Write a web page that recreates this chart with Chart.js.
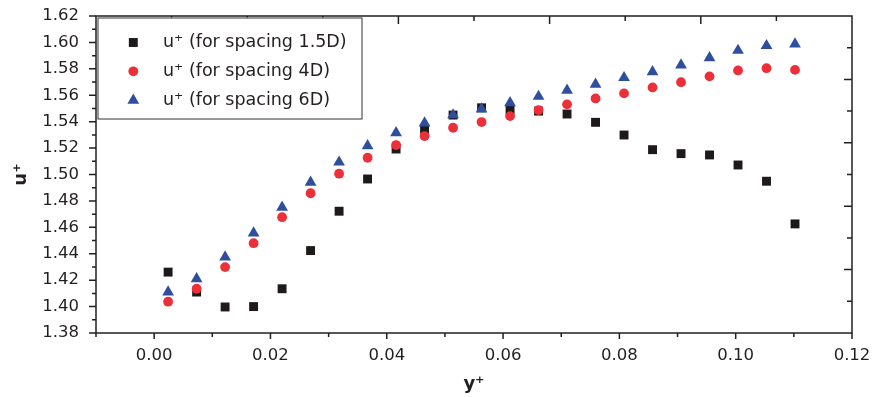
<!DOCTYPE html>
<html>
<head>
<meta charset="utf-8">
<script src="https://cdn.jsdelivr.net/npm/chart.js@4"></script>
<style>
  html, body { margin: 0; padding: 0; background: #fff; }
  #wrap { width: 872px; height: 397px; }
</style>
</head>
<body>
<div id="wrap"><canvas id="chart" width="872" height="397"></canvas></div>
<script>
// y+ positions (same for all three series)
var yPlus = [0.0024, 0.0073, 0.0122, 0.0171, 0.0220, 0.0269, 0.0318, 0.0367, 0.0416, 0.0465, 0.0514, 0.0563,
             0.0612, 0.0661, 0.0710, 0.0759, 0.0808, 0.0857, 0.0906, 0.0955, 0.1004, 0.1053, 0.1102];

// u+ values
var uSpacing15 = [1.4261, 1.4110, 1.3997, 1.4000, 1.4135, 1.4424, 1.4722, 1.4966, 1.5193, 1.5342, 1.5450, 1.5505,
                  1.5488, 1.5480, 1.5458, 1.5395, 1.5299, 1.5188, 1.5158, 1.5148, 1.5072, 1.4949, 1.4626];
var uSpacing4 = [1.4037, 1.4135, 1.4299, 1.4480, 1.4677, 1.4858, 1.5006, 1.5127, 1.5223, 1.5291, 1.5354, 1.5397,
                 1.5442, 1.5488, 1.5531, 1.5576, 1.5614, 1.5659, 1.5699, 1.5743, 1.5788, 1.5805, 1.5792];
var uSpacing6 = [1.4110, 1.4210, 1.4375, 1.4556, 1.4752, 1.4941, 1.5093, 1.5217, 1.5315, 1.5390, 1.5451, 1.5496,
                 1.5542, 1.5591, 1.5637, 1.5682, 1.5733, 1.5778, 1.5829, 1.5884, 1.5939, 1.5975, 1.5988];

var seriesLabels = ['u\u207A (for spacing 1.5D)', 'u\u207A (for spacing 4D)', 'u\u207A (for spacing 6D)'];

// unlabeled inward ticks on the top and right frame
var topTicks = [0.003, 0.016, 0.029, 0.042, 0.055, 0.068, 0.081, 0.094, 0.107];
var rightTicks = [1.404, 1.428, 1.452, 1.476, 1.500, 1.524, 1.548, 1.572, 1.596];

var ink = '#231f20';
var fontFam = '"DejaVu Sans", sans-serif';

function pts(xs, ys) {
  var out = [];
  for (var i = 0; i < xs.length; i++) out.push({x: xs[i], y: ys[i]});
  return out;
}

var datasets = [
  {label: seriesLabels[0], data: pts(yPlus, uSpacing15), pointStyle: 'rect', pointRadius: 6.3,
   backgroundColor: '#1e1a1a', borderColor: '#1e1a1a', borderWidth: 0, order: 3},
  {label: seriesLabels[1], data: pts(yPlus, uSpacing4), pointStyle: 'circle', pointRadius: 4.9,
   backgroundColor: '#ec2f38', borderColor: '#ec2f38', borderWidth: 0, order: 2},
  {label: seriesLabels[2], data: pts(yPlus, uSpacing6), pointStyle: 'triangle', pointRadius: 6.8,
   backgroundColor: '#2f4f9e', borderColor: '#2f4f9e', borderWidth: 0, order: 1}
];

// frame, tick marks and boxed legend
var framePlugin = {
  id: 'frame',
  afterDraw: function(chart) {
    var ctx = chart.ctx, a = chart.chartArea;
    var xs = chart.scales.x, ys = chart.scales.y;
    ctx.save();
    ctx.strokeStyle = ink;
    ctx.lineWidth = 1.5;
    ctx.strokeRect(a.left, a.top, a.right - a.left, a.bottom - a.top);

    ctx.beginPath();
    xs.ticks.forEach(function(t) {
      var px = xs.getPixelForValue(t.value);
      var len = Math.round(t.value * 100) % 2 === 0 ? 6 : 4;
      ctx.moveTo(px, a.bottom); ctx.lineTo(px, a.bottom + len);
    });
    ys.ticks.forEach(function(t) {
      var py = ys.getPixelForValue(t.value);
      var len = Math.round(t.value * 100) % 2 === 0 ? 7 : 4;
      ctx.moveTo(a.left, py); ctx.lineTo(a.left - len, py);
    });
    topTicks.forEach(function(v, i) {
      var px = xs.getPixelForValue(v);
      var len = i % 2 === 1 ? 8 : 5;
      ctx.moveTo(px, a.top); ctx.lineTo(px, a.top + len);
    });
    rightTicks.forEach(function(v, i) {
      var py = ys.getPixelForValue(v);
      var len = i % 2 === 1 ? 8 : 5;
      ctx.moveTo(a.right, py); ctx.lineTo(a.right - len, py);
    });
    ctx.stroke();

    // legend box
    var bx = a.left + 1.5, by = a.top + 1.5, bw = 264, bh = 101;
    ctx.fillStyle = '#fff';
    ctx.fillRect(bx, by, bw, bh);
    ctx.lineWidth = 1;
    ctx.strokeStyle = '#333';
    ctx.strokeRect(bx + 0.5, by + 0.5, bw, bh);

    var rows = [26.5, 55.3, 84.3];
    chart.data.datasets.forEach(function(ds, i) {
      var cy = a.top + rows[i], cx = 133.3;
      ctx.fillStyle = ds.backgroundColor;
      ctx.beginPath();
      if (ds.pointStyle === 'rect') {
        var s = ds.pointRadius * Math.SQRT1_2;
        ctx.rect(cx - s, cy - s, 2 * s, 2 * s);
      } else if (ds.pointStyle === 'circle') {
        ctx.arc(cx, cy, ds.pointRadius, 0, Math.PI * 2);
      } else {
        var r = ds.pointRadius;
        ctx.moveTo(cx, cy - r);
        ctx.lineTo(cx + r * 0.866, cy + r / 2);
        ctx.lineTo(cx - r * 0.866, cy + r / 2);
        ctx.closePath();
      }
      ctx.fill();
      ctx.fillStyle = ink;
      ctx.font = '17.5px ' + fontFam;
      ctx.textBaseline = 'middle';
      ctx.textAlign = 'left';
      ctx.fillText(ds.label, 163, cy);
    });
    ctx.restore();
  }
};

var config = {
  type: 'scatter',
  data: {datasets: datasets},
  options: {
    responsive: false,
    animation: false,
    devicePixelRatio: 1,
    layout: {padding: {top: 16, right: 20, left: 0, bottom: 0}},
    plugins: {legend: {display: false}, tooltip: {enabled: false}},
    scales: {
      x: {
        type: 'linear', min: -0.01, max: 0.12,
        grid: {display: false, drawTicks: false},
        border: {display: false},
        ticks: {
          stepSize: 0.01, autoSkip: false, maxRotation: 0, padding: 13,
          color: ink, font: {family: fontFam, size: 16.5},
          callback: function(v) { return Math.round(v * 100) % 2 === 0 ? v.toFixed(2) : ''; }
        },
        title: {display: true, text: 'y\u207A', color: ink, padding: 2,
                font: {family: fontFam, size: 18, weight: 'bold'}},
        afterFit: function(s) { s.height = 64; s.paddingLeft = 0; s.paddingRight = 0; }
      },
      y: {
        type: 'linear', min: 1.38, max: 1.62,
        grid: {display: false, drawTicks: false},
        border: {display: false},
        ticks: {
          stepSize: 0.01, autoSkip: false, padding: 17,
          color: ink, font: {family: fontFam, size: 16.5},
          callback: function(v) { return Math.round(v * 100) % 2 === 0 ? v.toFixed(2) : ''; }
        },
        title: {display: true, text: 'u\u207A', color: ink, padding: 11,
                font: {family: fontFam, size: 18, weight: 'bold'}},
        afterFit: function(s) { s.width = 96; s.paddingTop = 0; s.paddingBottom = 0; }
      }
    }
  },
  plugins: [framePlugin]
};

window.onload = function() {
  var ctx = document.getElementById('chart').getContext('2d');
  window.myChart = new Chart(ctx, config);
};
</script>
</body>
</html>
